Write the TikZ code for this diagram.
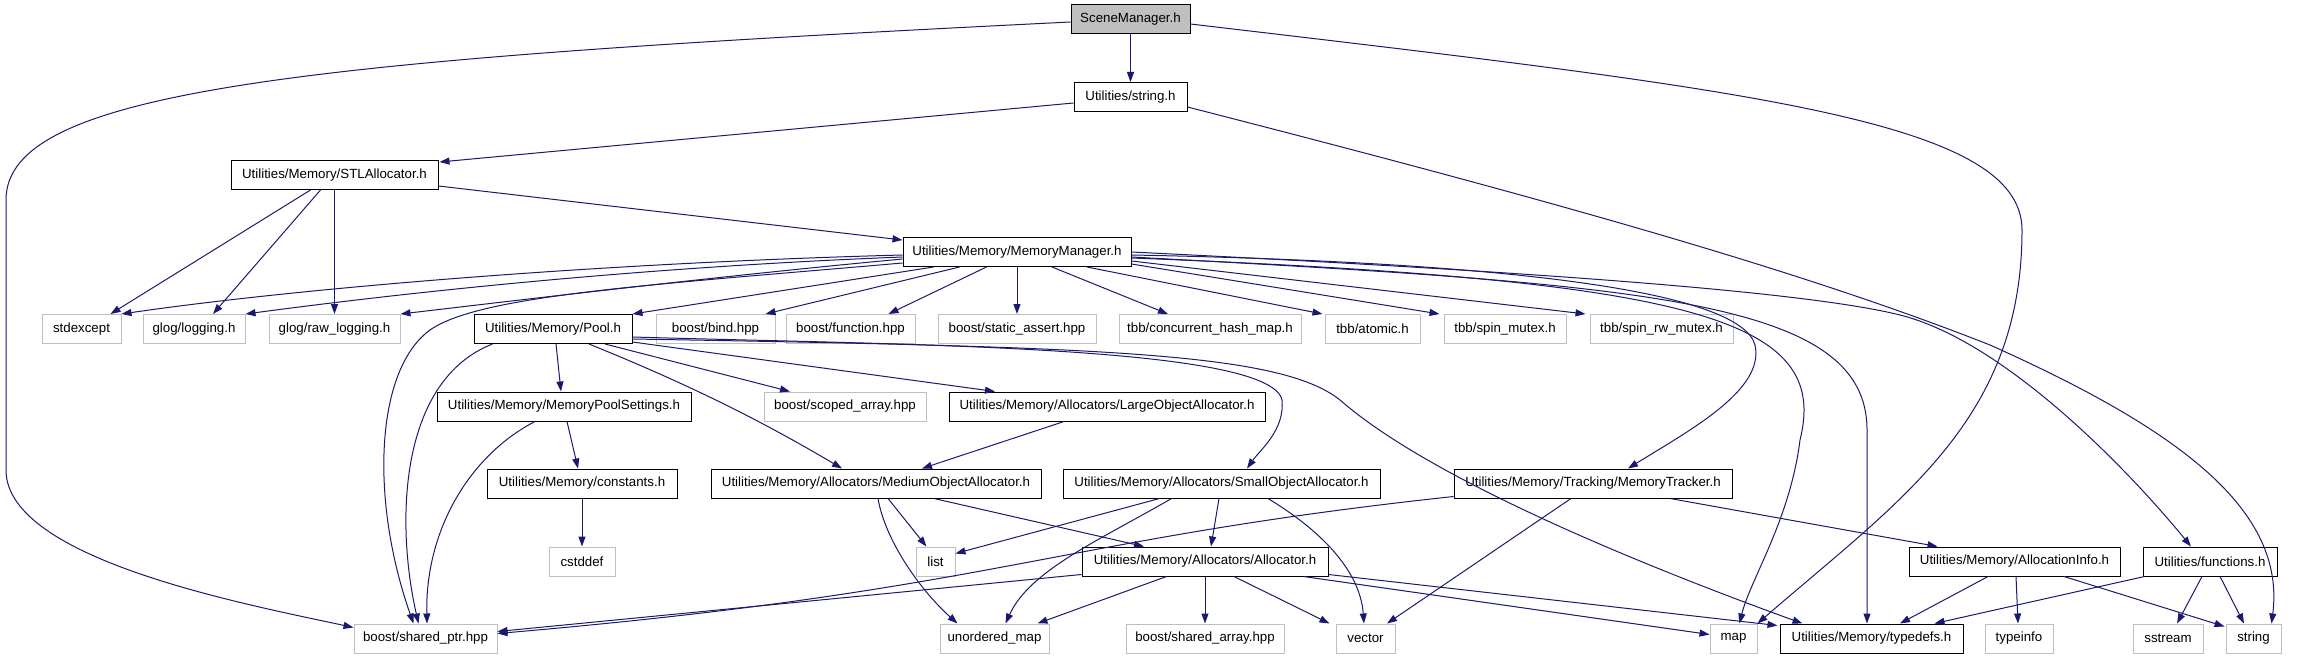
\documentclass[tikz,border=0pt]{standalone}
\usepackage{fontspec}
\setmainfont{Liberation Sans}
\usetikzlibrary{arrows.meta,calc}
\definecolor{edgec}{HTML}{191970}
\definecolor{extc}{HTML}{BFBFBF}
\begin{document}
\begin{tikzpicture}[x=1bp,y=-1bp,
  box/.style={draw=black,fill=white,line width=1bp,minimum height=29bp,inner sep=0pt,
    font=\fontsize{13.3bp}{16bp}\selectfont},
  ext/.style={box,draw=extc},
  root/.style={box,fill=extc},
  dep/.style={draw=edgec,line width=1bp,-{Triangle[length=10bp,width=7bp]}},
]
\useasboundingbox (0,0) rectangle (2297,659);
% row 0-3
\node[root,minimum width=119bp] (sm) at (1130.5,19.5) {SceneManager.h};
\node[box,minimum width=113bp] (str) at (1130.5,97) {Utilities/string.h};
\node[box,minimum width=207bp] (stl) at (334.5,175) {Utilities/Memory/STLAllocator.h};
\node[box,minimum width=228bp] (mm) at (1017,252) {Utilities/Memory/MemoryManager.h};
% row 4
\node[ext,minimum width=79bp] (std) at (81.5,329) {stdexcept};
\node[ext,minimum width=102bp] (glog) at (194,329) {glog/logging.h};
\node[ext,minimum width=131bp] (rawlog) at (334.5,329) {glog/raw\_logging.h};
\node[box,minimum width=158bp] (pool) at (553,329) {Utilities/Memory/Pool.h};
\node[ext,minimum width=119bp] (bind) at (715.5,329) {boost/bind.hpp};
\node[ext,minimum width=129bp] (func) at (850.5,329) {boost/function.hpp};
\node[ext,minimum width=158bp] (sa) at (1017,329) {boost/static\_assert.hpp};
\node[ext,minimum width=182bp] (chm) at (1210,329) {tbb/concurrent\_hash\_map.h};
\node[ext,minimum width=95bp] (atomic) at (1372.5,329) {tbb/atomic.h};
\node[ext,minimum width=122bp] (spin) at (1505,329) {tbb/spin\_mutex.h};
\node[ext,minimum width=143bp] (spinrw) at (1661.5,329) {tbb/spin\_rw\_mutex.h};
% row 5
\node[box,minimum width=254bp] (mps) at (564,406.5) {Utilities/Memory/MemoryPoolSettings.h};
\node[ext,minimum width=162bp] (scoped) at (845,406.5) {boost/scoped\_array.hpp};
\node[box,minimum width=316bp] (large) at (1107,406.5) {Utilities/Memory/Allocators/LargeObjectAllocator.h};
% row 6
\node[box,minimum width=190bp] (const) at (582,483.5) {Utilities/Memory/constants.h};
\node[box,minimum width=330bp] (medium) at (876,483.5) {Utilities/Memory/Allocators/MediumObjectAllocator.h};
\node[box,minimum width=317bp] (small) at (1221.5,483.5) {Utilities/Memory/Allocators/SmallObjectAllocator.h};
\node[box,minimum width=278bp] (mt) at (1593,483.5) {Utilities/Memory/Tracking/MemoryTracker.h};
% row 7
\node[ext,minimum width=66bp] (cstddef) at (582,561.5) {cstddef};
\node[ext,minimum width=39bp] (list) at (935.5,561.5) {list};
\node[box,minimum width=246bp] (alloc) at (1205,561.5) {Utilities/Memory/Allocators/Allocator.h};
\node[box,minimum width=211bp] (ainfo) at (2014.5,561.5) {Utilities/Memory/AllocationInfo.h};
\node[box,minimum width=134bp] (funcs) at (2210,561.5) {Utilities/functions.h};
% row 8
\node[ext,minimum width=143bp] (sp) at (425.5,638.5) {boost/shared\_ptr.hpp};
\node[ext,minimum width=109bp] (umap) at (994.5,638.5) {unordered\_map};
\node[ext,minimum width=158bp] (sarr) at (1205,638.5) {boost/shared\_array.hpp};
\node[ext,minimum width=59bp] (vec) at (1365.5,638.5) {vector};
\node[ext,minimum width=47bp] (map) at (1733.5,638.5) {map};
\node[box,minimum width=183bp] (td) at (1871.5,638.5) {Utilities/Memory/typedefs.h};
\node[ext,minimum width=68bp] (tinfo) at (2019,638.5) {typeinfo};
\node[ext,minimum width=70bp] (sstream) at (2168,638.5) {sstream};
\node[ext,minimum width=55bp] (string) at (2253.5,638.5) {string};

% SceneManager.h
\draw[dep] (sm.south) -- (str.north);
\draw[dep] ($(sm.west)+(0,2.5)$) .. controls (300,60) and (6,90) .. (6,200) -- (6,470)
  .. controls (6,560) and (250,605) .. ($(sp.west)+(0,-11)$);
\draw[dep] ($(sm.east)+(0,4.5)$) .. controls (1750,90) and (2022,120) .. (2022,230)
  .. controls (2022,420) and (1900,500) .. (map.north east);
% string.h
\draw[dep] ($(str.west)+(0,6)$) -- ($(stl.north east)+(1,2)$);
\draw[dep] ($(str.east)+(0,10)$) .. controls (1550,200) and (1800,270) .. (1990,345)
  .. controls (2180,430) and (2286,510) .. ($(string.north)+(18,0)$);
% STLAllocator.h
\draw[dep] ($(stl.south)+(-24,0)$) -- ($(std.north)+(29,0)$);
\draw[dep] ($(stl.south)+(-14,0)$) -- ($(glog.north)+(19,0)$);
\draw[dep] (stl.south) -- (rawlog.north);
\draw[dep] ($(stl.east)+(0,11)$) -- ($(mm.north west)+(0,3)$);
% MemoryManager.h
\draw[dep] ($(mm.west)+(0,3)$) .. controls (600,263) and (300,288) .. (std.north east);
\draw[dep] ($(mm.west)+(0,5)$) .. controls (620,268) and (380,296) .. (glog.north east);
\draw[dep] ($(mm.west)+(0,7)$) .. controls (720,276) and (520,300) .. (rawlog.north east);
\draw[dep] ($(mm.west)+(0,11)$) .. controls (650,285) and (480,295) .. (430,330)
  .. controls (375,370) and (370,500) .. ($(sp.north)+(-12,0)$);
\draw[dep] ($(mm.south west)+(31,0)$) -- (pool.north east);
\draw[dep] ($(mm.south west)+(57,0)$) -- ($(bind.north east)+(-10,0)$);
\draw[dep] ($(mm.south west)+(84,0)$) -- ($(func.north east)+(-27,0)$);
\draw[dep] (mm.south) -- (sa.north);
\draw[dep] ($(mm.south)+(35,0)$) -- ($(chm.north)+(-42,0)$);
\draw[dep] ($(mm.south)+(70,0)$) -- ($(atomic.north west)+(-2,0)$);
\draw[dep] ($(mm.east)+(0,12)$) -- ($(spin.north west)+(-4,0)$);
\draw[dep] ($(mm.east)+(0,9)$) -- ($(spinrw.north west)+(-4,0)$);
\draw[dep] ($(mm.east)+(0,3)$) .. controls (1500,262) and (1740,290) .. (1755,345)
  .. controls (1765,390) and (1690,430) .. ($(mt.north)+(35,0)$);
\draw[dep] ($(mm.east)+(0,6)$) .. controls (1700,280) and (1830,320) .. (1800,440)
  .. controls (1790,520) and (1750,580) .. ($(map.north)+(6,0)$);
\draw[dep] ($(mm.east)+(0,5)$) .. controls (1650,285) and (1867,300) .. (1867,430)
  -- ($(td.north)+(-4.5,0)$);
\draw[dep] (mm.east) .. controls (1500,270) and (1800,290) .. (1900,315)
  .. controls (2000,340) and (2120,460) .. ($(funcs.north)+(-19,0)$);
% Pool.h
\draw[dep] ($(pool.south)+(3,0)$) -- ($(mps.north)+(-3,0)$);
\draw[dep] ($(pool.south west)+(19,0)$) .. controls (400,380) and (395,520) .. ($(sp.north)+(-7,0)$);
\draw[dep] ($(pool.south)+(52,0)$) -- ($(scoped.north)+(-55,0)$);
\draw[dep] ($(pool.south east)+(0,-2)$) -- ($(large.north)+(-112,0)$);
\draw[dep] ($(pool.south)+(36,0)$) .. controls (690,385) and (760,420) .. ($(medium.north)+(-34,0)$);
\draw[dep] ($(pool.east)+(0,8)$) .. controls (900,345) and (1270,345) .. (1282,400)
  .. controls (1285,430) and (1260,450) .. ($(small.north)+(25.5,0)$);
\draw[dep] ($(pool.east)+(0,10)$) .. controls (1100,347) and (1280,352) .. (1340,400)
  .. controls (1420,470) and (1600,550) .. ($(td.north west)+(23,0)$);
% MemoryPoolSettings.h
\draw[dep] ($(mps.south)+(3,0)$) -- ($(const.north)+(-4,0)$);
\draw[dep] ($(mps.south)+(-29,0)$) .. controls (470,455) and (425,530) .. ($(sp.north)+(1.5,0)$);
% constants.h
\draw[dep] (const.south) -- (cstddef.north);
% LargeObjectAllocator.h
\draw[dep] ($(large.south)+(-43,0)$) -- ($(medium.north)+(46,0)$);
% MediumObjectAllocator.h
\draw[dep] ($(medium.south)+(12,0)$) -- ($(list.north)+(-9,0)$);
\draw[dep] ($(medium.south)+(2,0)$) .. controls (885,540) and (920,590) .. ($(umap.north)+(-37,0)$);
\draw[dep] ($(medium.south)+(58,0)$) -- ($(alloc.north)+(-61,0)$);
% SmallObjectAllocator.h
\draw[dep] ($(small.south)+(-62,0)$) -- ($(list.east)+(0,-8)$);
\draw[dep] ($(small.south)+(-50,0)$) .. controls (1100,540) and (1030,570) .. ($(umap.north)+(11,0)$);
\draw[dep] ($(small.south)+(-2.5,0)$) -- ($(alloc.north)+(6,0)$);
\draw[dep] ($(small.south)+(46.5,0)$) .. controls (1320,530) and (1360,570) .. ($(vec.north)+(-1.5,0)$);
% MemoryTracker.h
\draw[dep] ($(mt.south west)+(0,-2)$) .. controls (1050,540) and (1000,590) .. ($(sp.east)+(0,-5)$);
\draw[dep] ($(mt.south)+(-22,0)$) -- ($(vec.north)+(21.5,0)$);
\draw[dep] ($(mt.south)+(77,0)$) -- ($(ainfo.north west)+(29,0)$);
% Allocator.h
\draw[dep] ($(alloc.west)+(0,13)$) -- ($(sp.east)+(0,-7)$);
\draw[dep] ($(alloc.south west)+(85,0)$) -- ($(umap.north east)+(-12,0)$);
\draw[dep] (alloc.south) -- (sarr.north);
\draw[dep] ($(alloc.south)+(29,0)$) -- ($(vec.north west)+(-6,0)$);
\draw[dep] ($(alloc.south east)+(-25,0)$) -- ($(map.west)+(0,-4)$);
\draw[dep] ($(alloc.east)+(0,13)$) -- ($(td.north west)+(-2,2)$);
% AllocationInfo.h
\draw[dep] ($(ainfo.south)+(-26.5,0)$) -- ($(td.north)+(28.5,0)$);
\draw[dep] ($(ainfo.south)+(1.5,0)$) -- ($(tinfo.north)+(-1,0)$);
\draw[dep] ($(ainfo.south)+(49.5,0)$) -- ($(string.north west)+(-1,3)$);
% functions.h
\draw[dep] ($(funcs.south west)+(2,0)$) -- ($(td.north east)+(-29,0)$);
\draw[dep] ($(funcs.south)+(-8,0)$) -- ($(sstream.north)+(9,0)$);
\draw[dep] ($(funcs.south)+(10,0)$) -- ($(string.north)+(-9.5,0)$);
\end{tikzpicture}
\end{document}
